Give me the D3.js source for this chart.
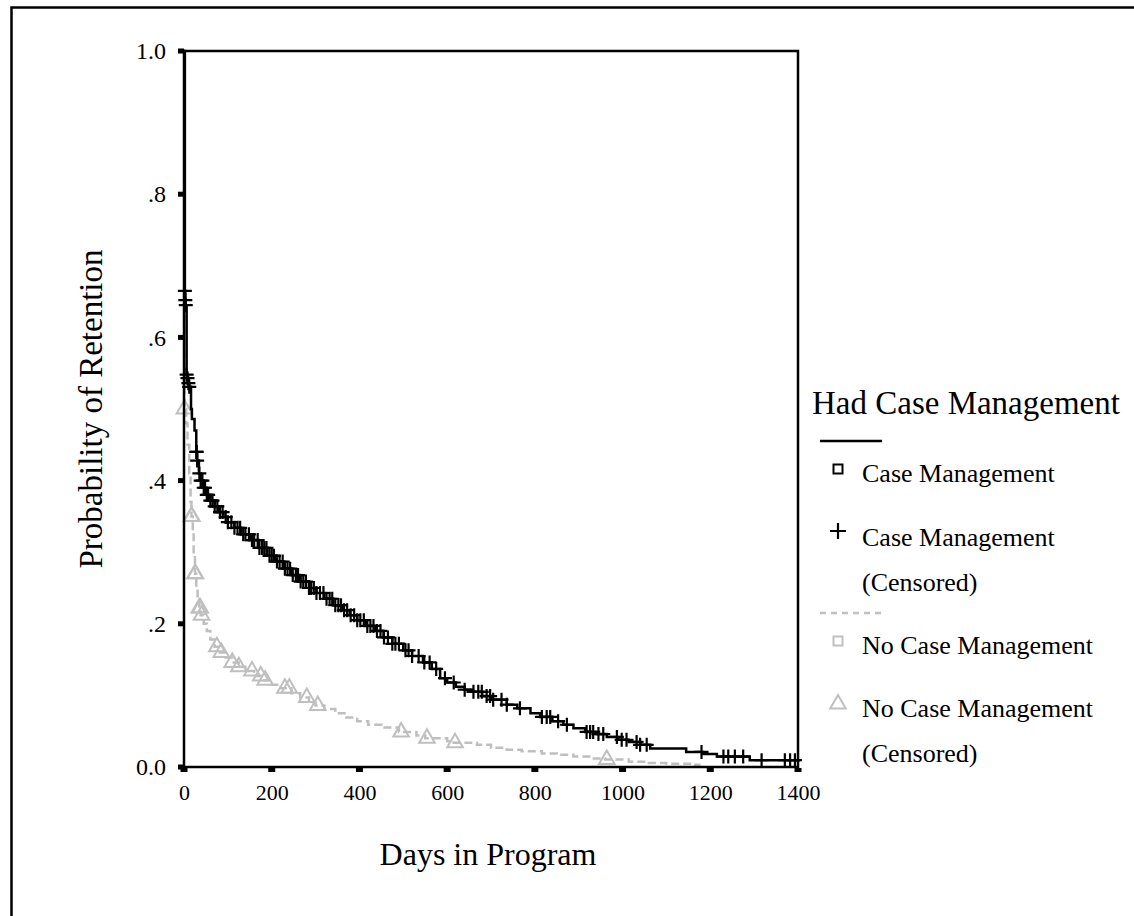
<!DOCTYPE html>
<html>
<head>
<meta charset="utf-8">
<script src="https://cdn.jsdelivr.net/npm/d3@7"></script>
<style>
  body { margin: 0; background: #fff; }
  text { font-family: "Liberation Serif", "Times New Roman", serif; fill: #000; }
</style>
</head>
<body>
<svg width="1134" height="916"></svg>
<script>
// Kaplan-Meier steps [day, survival]
const cmSteps = [
  [0, 1.0], [2, 0.665], [3, 0.652], [4, 0.645], [6, 0.548], [8, 0.543], [10, 0.536], [12, 0.531],
  [16, 0.50], [18, 0.486], [24, 0.47], [28, 0.44], [30, 0.428], [34, 0.41], [38, 0.40],
  [45, 0.39], [52, 0.38], [60, 0.372], [70, 0.364], [80, 0.356], [90, 0.349], [100, 0.342],
  [115, 0.334], [130, 0.325], [150, 0.317], [170, 0.306], [190, 0.295], [210, 0.287], [226, 0.277],
  [245, 0.268], [265, 0.259], [285, 0.25], [302, 0.243], [320, 0.235], [340, 0.226], [360, 0.219],
  [378, 0.212], [395, 0.205], [415, 0.197], [435, 0.19], [455, 0.181], [475, 0.172], [500, 0.163],
  [520, 0.155], [545, 0.146], [565, 0.137], [584, 0.124], [600, 0.118], [620, 0.112], [640, 0.108],
  [659, 0.105], [680, 0.099], [700, 0.094], [736, 0.087], [760, 0.082], [790, 0.075], [812, 0.070],
  [840, 0.064], [865, 0.059], [888, 0.054], [915, 0.049], [940, 0.046], [964, 0.042], [990, 0.038],
  [1014, 0.035], [1040, 0.031], [1063, 0.026], [1145, 0.021], [1182, 0.018], [1215, 0.0145], [1290, 0.0095]
];
const cmLastDay = 1405;

const noCmSteps = [
  [0, 1.0], [1, 0.50], [5, 0.48], [8, 0.45], [12, 0.41], [15, 0.37], [17, 0.35], [20, 0.33],
  [22, 0.30], [25, 0.27], [28, 0.25], [31, 0.235], [35, 0.222], [38, 0.212], [45, 0.20], [52, 0.19],
  [60, 0.178], [70, 0.168], [82, 0.16], [95, 0.153], [110, 0.146], [125, 0.14], [140, 0.134],
  [160, 0.127], [180, 0.121], [200, 0.115], [220, 0.11], [245, 0.103], [265, 0.097], [285, 0.09],
  [300, 0.086], [320, 0.081], [345, 0.075], [370, 0.069], [395, 0.064], [420, 0.059], [450, 0.055],
  [490, 0.049], [530, 0.044], [550, 0.040], [600, 0.036], [615, 0.034], [668, 0.031], [700, 0.027],
  [736, 0.024], [770, 0.022], [816, 0.019], [850, 0.017], [888, 0.0145], [930, 0.012], [960, 0.0105],
  [1014, 0.0074], [1060, 0.0055], [1100, 0.0045], [1157, 0.003], [1175, 0]
];

// censored cases (days)
const cmCensored = [2, 3, 4, 6, 8, 10, 12, 28, 29, 30, 35, 38, 42, 45, 48, 52, 55, 60, 65, 70, 76, 82,
  88, 95, 100, 108, 115, 122, 128, 135, 140, 148, 155, 160, 168, 172, 178, 183, 188, 195, 200, 205,
  212, 218, 225, 230, 236, 242, 248, 255, 260, 266, 272, 278, 285, 290, 296, 302, 310, 318, 325, 332,
  338, 345, 352, 358, 365, 372, 380, 388, 395, 402, 410, 418, 425, 432, 440, 448, 456, 465, 475, 482,
  490, 505, 512, 520, 535, 548, 560, 575, 595, 615, 640, 660, 671, 679, 690, 698, 705, 724, 736, 766,
  816, 827, 835, 853, 873, 918, 926, 933, 945, 956, 987, 998, 1009, 1032, 1040, 1055, 1180, 1230,
  1241, 1256, 1275, 1317, 1370, 1382, 1393];
const noCmCensored = [1, 17, 18, 25, 26, 35, 37, 40, 75, 85, 110, 125, 155, 175, 185, 230, 240, 280,
  305, 495, 554, 618, 964];

const xTicks = [0, 200, 400, 600, 800, 1000, 1200, 1400];
const yTicks = [0, 0.2, 0.4, 0.6, 0.8, 1.0];
const yTickLabels = ["0.0", ".2", ".4", ".6", ".8", "1.0"];

const legendTitle = "Had Case Management";
const legendItems = [
  { kind: "line", dash: null, color: "#000" },
  { kind: "square", color: "#000", lines: ["Case Management"] },
  { kind: "plus", color: "#000", lines: ["Case Management", "(Censored)"] },
  { kind: "line", dash: "6,5", color: "#c0c0c0" },
  { kind: "square", color: "#c0c0c0", lines: ["No Case Management"] },
  { kind: "triangle", color: "#c0c0c0", lines: ["No Case Management", "(Censored)"] }
];

const svg = d3.select("svg");
const grey = "#bfbfbf";

// outer frame (only top and left visible)
svg.append("rect")
  .attr("x", 11.5).attr("y", 7.5)
  .attr("width", 1300).attr("height", 1100)
  .attr("fill", "none").attr("stroke", "#000").attr("stroke-width", 2.5);

const x = d3.scaleLinear().domain([0, 1400]).range([184, 798]);
const y = d3.scaleLinear().domain([0, 1]).range([767, 51]);

const stepLine = d3.line()
  .x((d) => x(d[0]))
  .y((d) => y(d[1]))
  .curve(d3.curveStepAfter);

function survAt(steps, t) {
  const i = d3.bisector((d) => d[0]).right(steps, t) - 1;
  return steps[Math.max(0, i)][1];
}

// grey curve
svg.append("path")
  .datum(noCmSteps)
  .attr("d", stepLine)
  .attr("fill", "none")
  .attr("stroke", grey)
  .attr("stroke-width", 2.5)
  .attr("stroke-dasharray", "8,4");

const tri = d3.symbol().type(d3.symbolTriangle).size(105);
svg.append("g")
  .selectAll("path")
  .data(noCmCensored)
  .join("path")
  .attr("transform", (d) => `translate(${x(d)},${y(survAt(noCmSteps, d))})`)
  .attr("d", tri)
  .attr("fill", "none")
  .attr("stroke", grey)
  .attr("stroke-width", 2);

// black curve
svg.append("path")
  .datum(cmSteps.concat([[cmLastDay, cmSteps[cmSteps.length - 1][1]]]))
  .attr("d", stepLine)
  .attr("fill", "none")
  .attr("stroke", "#000")
  .attr("stroke-width", 2.5);

svg.append("g")
  .selectAll("path")
  .data(cmCensored)
  .join("path")
  .attr("transform", (d) => `translate(${x(d)},${y(survAt(cmSteps, d))})`)
  .attr("d", "M-7,0H7M0,-7V7")
  .attr("fill", "none")
  .attr("stroke", "#000")
  .attr("stroke-width", 2.2);

// plot box
svg.append("rect")
  .attr("x", x(0)).attr("y", y(1))
  .attr("width", x(1400) - x(0)).attr("height", y(0) - y(1))
  .attr("fill", "none").attr("stroke", "#000").attr("stroke-width", 2.5);

// axes
const yAxis = svg.append("g")
  .attr("transform", `translate(${x(0)},0)`)
  .call(d3.axisLeft(y).tickValues(yTicks).tickSize(0).tickPadding(18)
    .tickFormat((d, i) => yTickLabels[i]));
yAxis.select(".domain").remove();
yAxis.selectAll("text").style("font-family", "Liberation Serif").style("font-size", "24px");

const xAxis = svg.append("g")
  .attr("transform", `translate(0,${y(0)})`)
  .call(d3.axisBottom(x).tickValues(xTicks).tickSize(0).tickPadding(17)
    .tickFormat(d3.format("d")));
xAxis.select(".domain").remove();
xAxis.selectAll("text").style("font-family", "Liberation Serif").style("font-size", "22px");

// small square tick markers
svg.append("g").selectAll("rect").data(yTicks).join("rect")
  .attr("x", x(0) - 6).attr("y", (d) => y(d) - 2.5)
  .attr("width", 6).attr("height", 5).attr("fill", "#000");
svg.append("g").selectAll("rect").data(xTicks).join("rect")
  .attr("x", (d) => x(d) - 3.5).attr("y", y(0) + 1)
  .attr("width", 7).attr("height", 4).attr("fill", "#000");

// axis titles
svg.append("text")
  .attr("transform", `translate(102,409) rotate(-90)`)
  .attr("text-anchor", "middle")
  .style("font-size", "33px")
  .text("Probability of Retention");

svg.append("text")
  .attr("x", 488).attr("y", 865)
  .attr("text-anchor", "middle")
  .style("font-size", "32px")
  .text("Days in Program");

// legend
const lg = svg.append("g");
lg.append("text")
  .attr("x", 812).attr("y", 414)
  .style("font-size", "33px")
  .text(legendTitle);

const rowY = [441, 473, 537, 613, 645, 708];
legendItems.forEach((it, i) => {
  const cy = rowY[i];
  if (it.kind === "line") {
    lg.append("line")
      .attr("x1", 820).attr("x2", 882).attr("y1", cy).attr("y2", cy)
      .attr("stroke", it.color).attr("stroke-width", 2.5)
      .attr("stroke-dasharray", it.dash);
    return;
  }
  const mx = 838, my = cy - 4;
  if (it.kind === "square") {
    lg.append("rect")
      .attr("x", mx - 4.5).attr("y", my - 4.5).attr("width", 9).attr("height", 9)
      .attr("fill", "none").attr("stroke", it.color).attr("stroke-width", 2);
  } else if (it.kind === "plus") {
    lg.append("path")
      .attr("transform", `translate(${mx},${my - 2})`)
      .attr("d", "M-8,0H8M0,-8V8")
      .attr("stroke", it.color).attr("stroke-width", 2.2);
  } else {
    lg.append("path")
      .attr("transform", `translate(${mx},${my})`)
      .attr("d", tri)
      .attr("fill", "none").attr("stroke", it.color).attr("stroke-width", 2);
  }
  it.lines.forEach((t, j) => {
    lg.append("text")
      .attr("x", 862).attr("y", cy + 9 + j * 45)
      .style("font-size", "26px")
      .text(t);
  });
});
</script>
</body>
</html>
